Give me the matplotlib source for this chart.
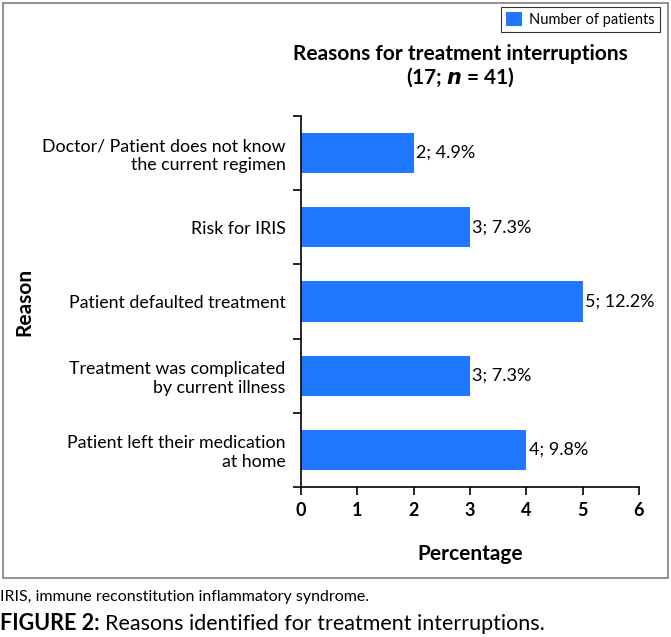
import numpy as np
import matplotlib
matplotlib.use("Agg")
import matplotlib.pyplot as plt
from matplotlib.patches import Rectangle

plt.rcParams['font.family'] = ['Lato', 'DejaVu Sans']

# data (top to bottom as in the chart)
reasons = [
    "Doctor/ Patient does not know\nthe current regimen",
    "Risk for IRIS",
    "Patient defaulted treatment",
    "Treatment was complicated\nby current illness",
    "Patient left their medication\nat home",
]
patients = [2, 3, 5, 3, 4]
percents = [4.9, 7.3, 12.2, 7.3, 9.8]
x_ticks = [0, 1, 2, 3, 4, 5, 6]

bar_color = '#1F78FF'
W, H = 671, 637

fig = plt.figure(figsize=(W / 100, H / 100), dpi=100)

# outer frame of the chart
fig.add_artist(Rectangle((3 / W, 1 - 578 / H), 665 / W, 575 / H,
                         transform=fig.transFigure, fill=False,
                         edgecolor='#7f7f7f', linewidth=1.2))

ax = fig.add_axes([301 / W, 1 - 487 / H, 338 / W, 371 / H])
ypos = np.arange(len(reasons))
ax.barh(ypos, patients, height=0.54, color=bar_color, label='Number of patients')
ax.set_ylim(len(reasons) - 0.5, -0.5)
ax.set_xlim(0, 6)
ax.set_xticks(x_ticks)
ax.set_yticks(ypos)
ax.set_yticklabels(reasons, fontsize=12.8, ha='right')
ax.set_yticks(np.arange(-0.5, len(reasons)), minor=True)
ax.tick_params(axis='y', which='major', length=0, pad=11)
ax.tick_params(axis='y', which='minor', length=6, width=1.2)
ax.tick_params(axis='x', length=6, width=1.2, labelsize=13, pad=5)
for lab in ax.get_xticklabels():
    lab.set_fontweight('bold')
for s in ['top', 'right']:
    ax.spines[s].set_visible(False)
for s in ['left', 'bottom']:
    ax.spines[s].set_linewidth(1.2)

for y, n, p in zip(ypos, patients, percents):
    ax.text(n + 0.04, y, f"{n}; {p}%", va='center', ha='left', fontsize=13)

ax.set_xlabel('Percentage', fontsize=15, fontweight='bold', labelpad=18)
ax.set_ylabel('Reason', fontsize=15, fontweight='bold')
ax.yaxis.set_label_coords(-(301 - 34) / 338, 0.5)

fig.text(460 / W, 1 - 54 / H, 'Reasons for treatment interruptions',
         fontsize=15, fontweight='bold', ha='center', va='center')
fig.text(460 / W, 1 - 77 / H, r'(17; $\mathbfit{n}$ = 41)',
         fontsize=15, fontweight='bold', ha='center', va='center')

leg = fig.legend(loc='upper right', bbox_to_anchor=(660 / W, 1 - 7 / H),
                 fontsize=10.5, frameon=True, fancybox=False,
                 handlelength=1.1, handleheight=1.1, handletextpad=0.5,
                 borderpad=0.35, borderaxespad=0)
leg.get_frame().set_edgecolor('black')
leg.get_frame().set_linewidth(0.8)

fig.text(0 / W, 1 - 597 / H, 'IRIS, immune reconstitution inflammatory syndrome.',
         fontsize=11.5, ha='left', va='center')
t1 = fig.text(0 / W, 1 - 624 / H, 'FIGURE 2:', fontsize=15.5, fontweight='bold',
              ha='left', va='center')
fig.canvas.draw()
bb = t1.get_window_extent()
fig.text(bb.x1 / W + 5 / W, 1 - 624 / H, 'Reasons identified for treatment interruptions.',
         fontsize=15.5, ha='left', va='center')

fig.savefig('out.png', dpi=100)
